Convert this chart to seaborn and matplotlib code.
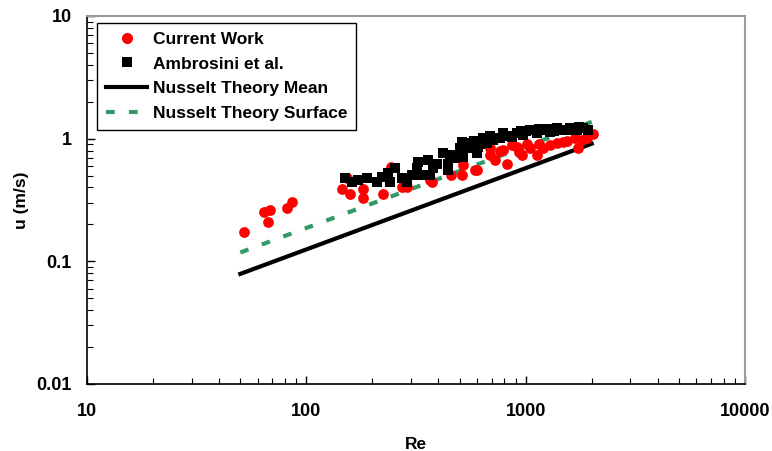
import numpy as np
import pandas as pd
import matplotlib
matplotlib.use("Agg")
import matplotlib.pyplot as plt
import seaborn as sns
from matplotlib.ticker import LogLocator, NullFormatter, FixedLocator, FixedFormatter
from matplotlib.lines import Line2D

# Current Work (red circles)
cw_re = [52, 64, 68, 67, 81.5, 86, 145, 158, 153, 181, 181, 223, 242, 272, 287,
         373, 365, 455, 511, 586, 516, 723, 819, 686, 786, 910, 959, 1043, 1122,
         1195, 1286, 1475, 1726, 2020, 1897, 1673, 598, 761, 864, 1010, 1150,
         1384, 1540, 1810, 686, 930]
cw_u = [0.172, 0.251, 0.261, 0.208, 0.271, 0.303, 0.392, 0.352, 0.476, 0.387, 0.329,
        0.352, 0.585, 0.404, 0.404, 0.441, 0.46, 0.504, 0.504, 0.553, 0.608, 0.667,
        0.616, 0.836, 0.806, 0.857, 0.733, 0.836, 0.733, 0.836, 0.885, 0.942, 0.836,
        1.088, 1.009, 1.009, 0.553, 0.80, 0.88, 0.90, 0.90, 0.93, 0.96, 0.98, 0.74, 0.78]

# Ambrosini et al. (black squares)
am_re = [150, 161, 172, 189, 209, 221, 235, 240, 253, 272, 287, 302, 319, 322, 336,
         358, 365, 377, 393, 419, 441, 441, 451, 475, 500, 511, 516, 544, 567, 598,
         604, 637, 664, 708, 761, 786, 864, 910, 969, 1043, 1122, 1195, 1286, 1384,
         1475, 1587, 1708, 1819, 1917, 580, 690, 820, 1000, 1150, 1250, 1350, 1550,
         1750, 950, 530, 620]
am_u = [0.476, 0.444, 0.458, 0.476, 0.444, 0.488, 0.523, 0.444, 0.574, 0.476, 0.444,
        0.504, 0.574, 0.646, 0.504, 0.667, 0.504, 0.574, 0.627, 0.762, 0.627, 0.553,
        0.733, 0.693, 0.836, 0.942, 0.710, 0.836, 0.919, 0.762, 0.857, 1.009, 0.919,
        0.972, 1.009, 1.109, 1.034, 1.109, 1.068, 1.173, 1.109, 1.173, 1.137, 1.218,
        1.173, 1.218, 1.173, 1.218, 1.173, 0.95, 1.05, 1.06, 1.15, 1.20, 1.20, 1.15,
        1.17, 1.25, 1.15, 0.88, 0.90]

# Nusselt theory lines
nm_re = [50, 2000]
nm_u = [0.079, 0.91]
ns_re = [50, 2000]
ns_u = [0.118, 1.37]

plt.rcParams['font.family'] = ['Liberation Sans', 'DejaVu Sans']
plt.rcParams['font.weight'] = 'bold'

fig = plt.figure(figsize=(7.72, 4.51), dpi=100)
ax = fig.add_axes([87/772, 1-384/451, (745-87)/772, (384-16)/451])

green = '#339966'
dash = [2.1, 3.4]
sns.lineplot(x=nm_re, y=nm_u, ax=ax, color='black', linewidth=3.0, legend=False)
sns.lineplot(x=ns_re, y=ns_u, ax=ax, color=green, linewidth=3.0, legend=False)
ax.lines[-1].set_dashes(dash)
sns.scatterplot(x=cw_re, y=cw_u, ax=ax, color='#FF0000', marker='o', s=60,
                linewidth=0, legend=False, zorder=3)
sns.scatterplot(x=am_re, y=am_u, ax=ax, color='black', marker='s', s=45,
                linewidth=0, legend=False, zorder=4)

ax.set_xscale('log')
ax.set_yscale('log')
ax.set_xlim(10, 10000)
ax.set_ylim(0.01, 10)

ax.xaxis.set_major_locator(FixedLocator([10, 100, 1000, 10000]))
ax.xaxis.set_major_formatter(FixedFormatter(['10', '100', '1000', '10000']))
ax.yaxis.set_major_locator(FixedLocator([0.01, 0.1, 1, 10]))
ax.yaxis.set_major_formatter(FixedFormatter(['0.01', '0.1', '1', '10']))
ax.xaxis.set_minor_locator(LogLocator(base=10, subs=np.arange(2, 10)))
ax.yaxis.set_minor_locator(LogLocator(base=10, subs=np.arange(2, 10)))
ax.xaxis.set_minor_formatter(NullFormatter())
ax.yaxis.set_minor_formatter(NullFormatter())

ax.tick_params(which='both', direction='in', top=False, right=False, color='black')
ax.tick_params(axis='x', which='major', length=6, width=1, labelsize=13, pad=14)
ax.tick_params(axis='y', which='major', length=6, width=1, labelsize=13, pad=11)
ax.tick_params(which='minor', length=4, width=0.8)
for lab in ax.get_xticklabels() + ax.get_yticklabels():
    lab.set_fontweight('bold')

ax.spines['left'].set_color('black')
ax.spines['bottom'].set_color('black')
ax.spines['left'].set_linewidth(1.2)
ax.spines['bottom'].set_linewidth(1.2)
ax.spines['top'].set_color('#999999')
ax.spines['right'].set_color('#999999')
ax.spines['top'].set_linewidth(1.5)
ax.spines['right'].set_linewidth(1.5)

ax.set_xlabel('Re', fontsize=12.5, fontweight='bold', labelpad=12)
ax.set_ylabel('u (m/s)', fontsize=12.5, fontweight='bold', labelpad=5)

handles = [
    Line2D([], [], color='#FF0000', marker='o', linestyle='none', markersize=8, markeredgewidth=0),
    Line2D([], [], color='black', marker='s', linestyle='none', markersize=7, markeredgewidth=0),
    Line2D([], [], color='black', linewidth=3.0),
    Line2D([], [], color=green, linewidth=3.0, dashes=dash),
]
labels = ['Current Work', 'Ambrosini et al.', 'Nusselt Theory Mean', 'Nusselt Theory Surface']
leg = ax.legend(handles, labels, loc='upper left', bbox_to_anchor=(10/658, 1-7/368),
                frameon=True, fancybox=False, edgecolor='black', framealpha=1,
                prop={'weight': 'bold', 'size': 12.5}, handlelength=2.4,
                handletextpad=0.3, borderpad=0.5, labelspacing=0.55, borderaxespad=0)
leg.get_frame().set_linewidth(1.0)

fig.savefig('out.png', dpi=100)
